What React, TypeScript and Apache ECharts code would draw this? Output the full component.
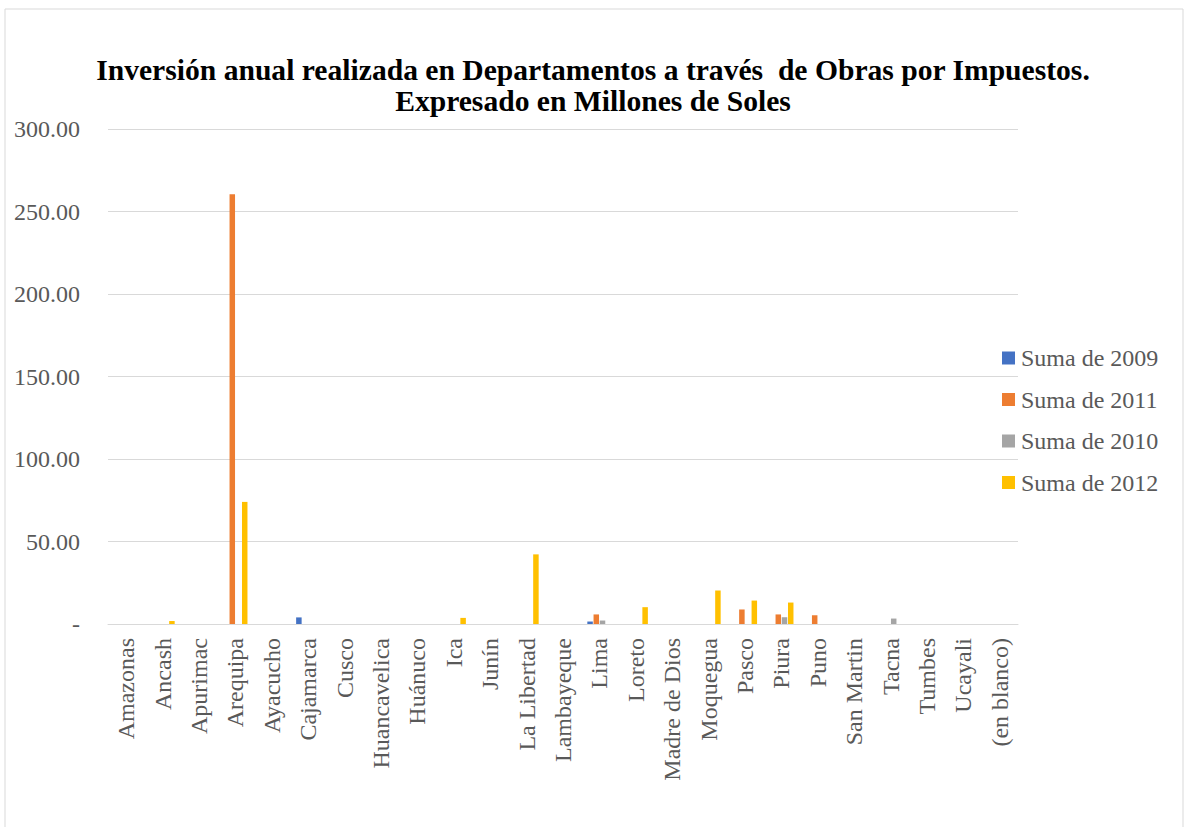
import React, { useEffect, useRef } from "react";
import * as echarts from "echarts";

const categories = [
  "Amazonas", "Ancash", "Apurimac", "Arequipa", "Ayacucho", "Cajamarca", "Cusco",
  "Huancavelica", "Huánuco", "Ica", "Junín", "La Libertad", "Lambayeque", "Lima",
  "Loreto", "Madre de Dios", "Moquegua", "Pasco", "Piura", "Puno", "San Martin",
  "Tacna", "Tumbes", "Ucayali", "(en blanco)",
];

const s2009 = [null, null, null, null, null, 4.0, null, null, null, null, null, null, null, 1.5, null, null, null, null, null, null, null, null, null, null, null];
const s2011 = [null, null, null, 260.5, null, null, null, null, null, null, null, null, null, 5.8, null, null, null, 8.8, 5.8, 5.3, null, null, null, null, null];
const s2010 = [null, null, null, null, null, null, null, null, null, null, null, null, null, 2.1, null, null, null, null, 4.1, null, null, 3.3, null, null, null];
const s2012 = [null, 1.8, null, 74.0, null, null, null, null, null, 3.7, null, 42.2, null, null, 10.2, null, 20.3, 14.2, 13.0, null, null, null, null, null, null];

const seriesNames = ["Suma de 2009", "Suma de 2011", "Suma de 2010", "Suma de 2012"];
const seriesData = [s2009, s2011, s2010, s2012];
const colors = ["#4472C4", "#ED7D31", "#A5A5A5", "#FFC000"];

const titleText = "Inversión anual realizada en Departamentos a través  de Obras por Impuestos.\nExpresado en Millones de Soles";

const FONT = "'Liberation Serif', 'Times New Roman', serif";

export default function App() {
  const ref = useRef<HTMLDivElement>(null);
  useEffect(() => {
    if (!ref.current) return;
    const chart = echarts.init(ref.current, undefined, { renderer: "svg" });
    chart.setOption({
      animation: false,
      backgroundColor: "#ffffff",
      title: {
        text: titleText,
        left: 588,
        top: 49,
        textAlign: "center",
        textStyle: {
          fontFamily: FONT,
          fontWeight: "bold",
          fontSize: 29.6,
          lineHeight: 31,
          color: "#000000",
        },
      },
      graphic: [
        {
          type: "rect",
          shape: { x: 5, y: 9, width: 1178, height: 840 },
          style: { fill: "none", stroke: "#d9d9d9", lineWidth: 1 },
          silent: true,
        },
      ],
      legend: {
        orient: "vertical",
        left: 997,
        top: 341,
        itemWidth: 13,
        itemHeight: 13,
        itemGap: 17.5,
        icon: "rect",
        textStyle: { fontFamily: FONT, fontSize: 24, color: "#595959", padding: [0, 0, 0, 1] },
        data: seriesNames,
      },
      grid: { left: 108, right: 169, top: 129, bottom: 203, containLabel: false },
      xAxis: {
        type: "category",
        data: categories,
        axisLine: { lineStyle: { color: "#d9d9d9", width: 1 } },
        axisTick: { show: false },
        axisLabel: {
          rotate: 90,
          interval: 0,
          margin: 14,
          fontFamily: FONT,
          fontSize: 24,
          color: "#595959",
        },
      },
      yAxis: {
        type: "value",
        min: 0,
        max: 300,
        interval: 50,
        axisLine: { show: false },
        axisTick: { show: false },
        splitLine: { lineStyle: { color: "#d9d9d9", width: 1 } },
        axisLabel: {
          margin: 28,
          fontFamily: FONT,
          fontSize: 24,
          color: "#595959",
          formatter: (v: number) => (v === 0 ? "-" : v.toFixed(2)),
        },
      },
      series: seriesNames.map((name, i) => ({
        name,
        type: "bar",
        data: seriesData[i],
        barWidth: 5.5,
        barGap: "13%",
        itemStyle: { color: colors[i] },
      })),
    });
    return () => chart.dispose();
  }, []);
  return (
    <div
      ref={ref}
      style={{ position: "absolute", left: 0, top: 0, width: 1187, height: 827 }}
    />
  );
}
